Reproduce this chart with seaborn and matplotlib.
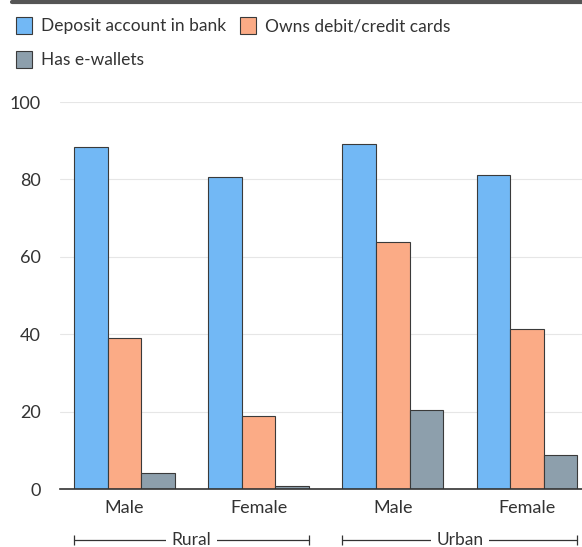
import matplotlib
matplotlib.use("Agg")
import matplotlib.pyplot as plt
import seaborn as sns
import pandas as pd
from matplotlib.lines import Line2D
from matplotlib.patches import Patch
import matplotlib.transforms as mtransforms

groups = ["Rural Male", "Rural Female", "Urban Male", "Urban Female"]
tick_labels = ["Male", "Female", "Male", "Female"]
series = ["Deposit account in bank", "Owns debit/credit cards", "Has e-wallets"]
deposit = [88.4, 80.6, 89.1, 81.1]
cards = [39.0, 18.9, 63.8, 41.3]
ewallets = [4.1, 0.8, 20.4, 8.8]
colors = ["#72B8F5", "#FBAB86", "#8D9FAC"]
areas = ["Rural", "Urban"]

rows = []
for name, vals in zip(series, [deposit, cards, ewallets]):
    for g, v in zip(groups, vals):
        rows.append({"group": g, "series": name, "value": v})
df = pd.DataFrame(rows)

sns.set_theme(style="white")
plt.rcParams["font.family"] = ["Lato", "DejaVu Sans"]

fig = plt.figure(figsize=(5.82, 5.47), dpi=100)
ax = fig.add_axes([0.103, 0.106, 0.897, 0.7075])

sns.barplot(data=df, x="group", y="value", hue="series", order=groups,
            hue_order=series, palette=colors, width=0.75, edgecolor="#3a3a3a",
            linewidth=0.8, ax=ax, legend=False, saturation=1)

ax.set_ylim(0, 100)
ax.set_xlim(-0.48, 3.41)
ax.set_yticks([0, 20, 40, 60, 80, 100])
ax.yaxis.grid(True, color="#e6e6e6", linewidth=0.8)
ax.set_axisbelow(True)
for s in ["top", "right", "left"]:
    ax.spines[s].set_visible(False)
ax.spines["bottom"].set_color("#333333")
ax.spines["bottom"].set_linewidth(1.2)
ax.set_xticks(range(4))
ax.set_xticklabels(tick_labels, fontsize=13, color="#333333")
ax.tick_params(axis="x", length=0, pad=8)
ax.tick_params(axis="y", length=0, pad=14, labelsize=13, labelcolor="#333333")
ax.set_xlabel("")
ax.set_ylabel("")

# group brackets
trans = mtransforms.blended_transform_factory(ax.transData, ax.transAxes)
yb = -0.132
for i, area in enumerate(areas):
    x0 = 2 * i - 0.375
    x1 = 2 * i + 1.375
    ax.plot([x0, x1], [yb, yb], transform=trans, color="#333333", lw=0.9,
            clip_on=False)
    for xe in (x0, x1):
        ax.plot([xe], [yb], transform=trans, marker="|", markersize=7,
                color="#333333", mew=0.9, clip_on=False)
    ax.text(2 * i + 0.5, yb, area, transform=trans, ha="center", va="center",
            fontsize=12.5, color="#333333",
            bbox=dict(facecolor="white", edgecolor="none", pad=4))

# top rule
fig.add_artist(Line2D([0.02, 1.0], [0.997, 0.997], color="#555555", lw=3,
                      transform=fig.transFigure))

handles = [Patch(facecolor=c, edgecolor="#3a3a3a", linewidth=0.8) for c in colors]
order = [0, 2, 1]
fig.legend([handles[i] for i in order], [series[i] for i in order],
           loc="upper left", bbox_to_anchor=(0.0, 0.998),
           ncol=2, frameon=False, fontsize=12.5, handlelength=0.95,
           handleheight=1.15, handletextpad=0.5, columnspacing=0.8,
           labelspacing=0.95, labelcolor="#333333")

fig.savefig("out.png", dpi=100)
